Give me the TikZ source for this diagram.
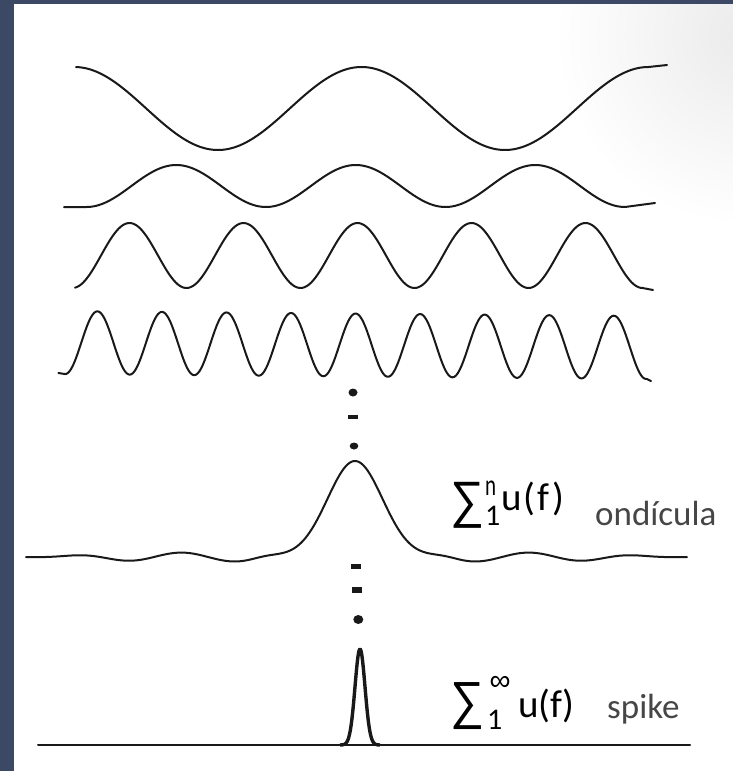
\documentclass[tikz,border=0pt]{standalone}
\usepackage{graphicx}
\usepackage{fontspec}
\setmainfont{Carlito}
\newfontfamily\symsans{Liberation Sans}
\definecolor{stripcol}{RGB}{59,73,100}
\definecolor{ink}{RGB}{25,25,25}
\definecolor{labgray}{RGB}{70,70,70}
\tikzset{
  wave/.style={draw=ink, line width=2pt, line join=round, line cap=round},
  spikeline/.style={draw=ink, line width=3.4pt, line join=round},
  lab/.style={inner sep=0pt, anchor=base west, text=labgray, font=\fontsize{35}{40}\selectfont},
  fn/.style={inner sep=0pt, anchor=base west, text=black, font=\fontsize{39}{42}\selectfont},
  scr/.style={inner sep=0pt, anchor=base west, text=black, font=\fontsize{30}{32}\selectfont},
  sigbox/.style={inner sep=0pt, anchor=center, text=black},
}
\begin{document}
\begin{tikzpicture}[x=1pt,y=-1pt,
  declare function={
    lobe(\d)=exp(-min((\d/38.89)*(\d/38.89),9));
    rip(\d)=cos(((abs(\d)-174)/108)*360);
    wa(\d)=1-exp(-min(((\d/90)*(\d/90))*((\d/90)*(\d/90))*((\d/90)*(\d/90)),9));
    wb(\d)=exp(-min(((\d/280)*(\d/280))*((\d/280)*(\d/280))*((\d/280)*(\d/280))*((\d/280)*(\d/280)),9));
  }]
\useasboundingbox (0,0) rectangle (733,771);
% background
\fill[stripcol] (0,0) rectangle (733,771);
\fill[white] (14,4) rectangle (733,771);
\begin{scope}
  \clip (14,4) rectangle (733,771);
  \shade[inner color=gray!16, outer color=white] (745,35) circle (190pt);
\end{scope}

% wave 1
\draw[wave] (76,67) -- plot[domain=76:648.5, samples=200] (\x,{108.5-41.5*cos(((\x-74.5)/287)*360)}) -- (667,65);
% wave 2
\draw[wave] (64,207) -- plot[domain=86.5:625, samples=220] (\x,{186+21*cos(((\x-86.5)/179.5)*360)}) -- (655,203);
% wave 3
\draw[wave] plot[domain=75:642.5, samples=300] (\x,{255.5-32.5*cos(((\x-129.5)/114)*360)}) -- (653,290);
% wave 4
\draw[wave] (58.4,373) -- plot[domain=65.1:646.6, samples=420] (\x,{342.5+5*((\x-58)/593)-31.5*cos(((\x-97.4)/64.55)*360)}) -- (651,381);

% dots between
\fill[ink] (353,392.5) circle [x radius=4.5pt, y radius=4pt];
\fill[ink] (347.5,414.8) rectangle (357.5,419.4);
\fill[ink] (354,446) circle [x radius=4.3pt, y radius=3.5pt];

% wavelet (ondicula)
\draw[wave] plot[domain=26:687, samples=332] (\x,{557-96*lobe(\x-355)-4.5*rip(\x-355)*wa(\x-355)*wb(\x-355)});

% dots below
\fill[ink] (351,564.3) rectangle (361,569.3);
\fill[ink] (351.5,587.2) rectangle (362,593.2);
\fill[ink] (358.3,619.5) circle [x radius=5pt, y radius=4.5pt];

% spike
\draw[wave] (38,745) -- (690,745);
\draw[spikeline] plot[domain=340:380, samples=81] (\x,{745-96*exp(-min((\x-360)*(\x-360)/50,9))});

% labels: ondicula row
\node[sigbox] (sig1) at (467,505) {\resizebox*{34pt}{46pt}{\symsans ∑}};
\node[scr] (sup1) at (485,495) {\scalebox{0.7}[1]{n}};
\node[scr] (sub1) at (485,525) {1};
\node[fn] (uf1) at (501,510) {u\kern1.5pt(\kern2.5pt f\kern3.5pt)};
\node[lab] (lab1) at (595,525) {ondícula};

% labels: spike row
\node[sigbox] (sig2) at (467,706.5) {\resizebox*{34pt}{47pt}{\symsans ∑}};
\node[inner sep=0pt, anchor=center] (sup2) at (500,683) {\resizebox{21pt}{!}{\symsans ∞}};
\node[scr] (sub2) at (487,729) {1};
\node[fn] (uf2) at (518,717) {u(f)};
\node[lab] (lab2) at (607,718) {spike};
\end{tikzpicture}
\end{document}
